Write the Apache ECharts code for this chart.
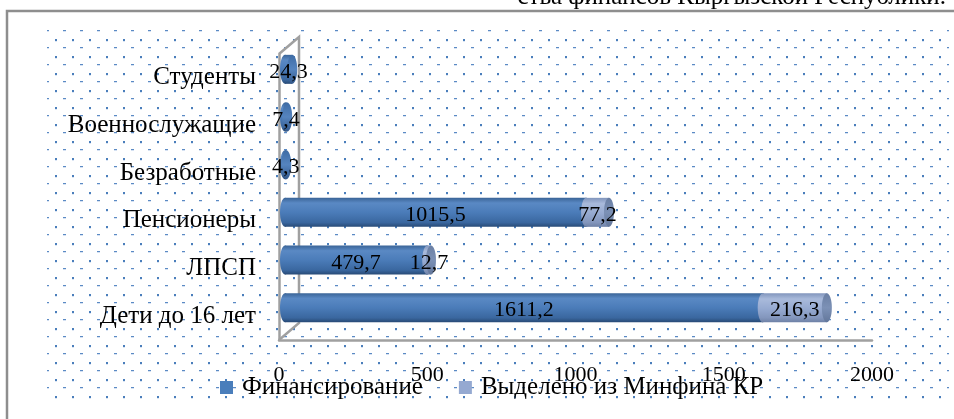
<!DOCTYPE html>
<html>
<head>
<meta charset="utf-8">
<script src="https://cdn.jsdelivr.net/npm/echarts@6/dist/echarts.min.js"></script>
<style>
html,body{margin:0;padding:0;background:#fff;}
#c{width:954px;height:419px;}
</style>
</head>
<body>
<div id="c"></div>
<script>
// ---- data ----
const categories = ['Дети до 16 лет', 'ЛПСП', 'Пенсионеры', 'Безработные', 'Военнослужащие', 'Студенты'];
const financing = [1611.2, 479.7, 1015.5, 4.3, 7.4, 24.3];
const minfin = [216.3, 12.7, 77.2, null, null, null];
const xTicks = [0, 500, 1000, 1500, 2000];
const seriesNames = ['Финансирование', 'Выделено из Минфина КР'];
const topText = 'ства финансов Кыргызской Республики.';

// ---- layout / style ----
const FONT = 'Liberation Serif';
const TXT = 25, NUM = 22;
const G = {left: 279, top: 54, width: 593, height: 286};
const DEPTH = {x: 20, y: -17};
const BAR = {dx: 6, dy: -8.5, h: 29, rx: 5};

function grad(stops) {
  return new echarts.graphic.LinearGradient(0, 0, 0, 1, stops.map((c) => ({offset: c[0], color: c[1]})));
}
const styles = [
  {
    body: [[0, '#3A6497'], [0.18, '#5A89C4'], [0.5, '#4B7CB9'], [0.85, '#3A679F'], [1, '#284A76']],
    cap: [[0, '#3F6CA5'], [0.5, '#5584BF'], [1, '#33598C']],
    legend: '#4A7EBB'
  },
  {
    body: [[0, '#8195BC'], [0.2, '#A9BADB'], [0.55, '#95A9D0'], [0.85, '#8396BC'], [1, '#6E81A6']],
    cap: [[0, '#6A7FA4'], [0.5, '#7C91B6'], [1, '#63779B']],
    legend: '#95A9D1'
  }
];

function fmt(v) { return String(v).replace('.', ','); }

function buildData(vals, bases) {
  return vals.map((v, i) => (v == null ? [null, i, 0] : [v, i, bases ? (bases[i] || 0) : 0]));
}

function renderFor(si) {
  return function (params, api) {
    const val = api.value(0);
    if (val == null || isNaN(val)) return;
    const cat = api.value(1);
    const start = api.value(2);
    const p0 = api.coord([start, cat]);
    const p1 = api.coord([start + val, cat]);
    const x0 = p0[0] + BAR.dx, x1 = p1[0] + BAR.dx, cy = p0[1] + BAR.dy;
    const h = BAR.h, rx = BAR.rx;
    const st = styles[si];
    return {
      type: 'group',
      children: [
        {type: 'ellipse', shape: {cx: x0, cy: cy, rx: rx, ry: h / 2}, style: {fill: grad(st.body)}},
        {type: 'rect', shape: {x: x0, y: cy - h / 2, width: Math.max(x1 - x0, 0.1), height: h}, style: {fill: grad(st.body)}},
        {type: 'ellipse', shape: {cx: x1, cy: cy, rx: rx, ry: h / 2}, style: {fill: grad(st.cap)}},
        {type: 'text', z2: 100, style: {text: fmt(val), x: (x0 + x1) / 2, y: cy + 3, align: 'center', verticalAlign: 'middle', fontSize: NUM, fontFamily: FONT, fill: '#000'}}
      ]
    };
  };
}

// dotted background pattern
const tile = document.createElement('canvas');
tile.width = 17; tile.height = 17;
(function () {
  const c = tile.getContext('2d');
  c.fillStyle = '#DCE6F4';
  c.fillRect(4, 7, 2, 1);
  c.fillStyle = '#4A7EBB';
  c.fillRect(4, 5, 2, 2);
  c.fillStyle = '#D5E1F2';
  c.fillRect(12, 14, 3, 1);
  c.fillStyle = '#5B8AC4';
  c.fillRect(12, 13, 3, 1);
})();

const chart = echarts.init(document.getElementById('c'));
const option = {
  backgroundColor: '#fff',
  animation: false,
  textStyle: {fontFamily: FONT},
  grid: {left: G.left, top: G.top, width: G.width, height: G.height, containLabel: false},
  xAxis: {
    type: 'value', min: xTicks[0], max: xTicks[xTicks.length - 1], interval: xTicks[1] - xTicks[0],
    axisLine: {show: true, lineStyle: {color: '#A0A0A0', width: 2.5}},
    axisTick: {show: false},
    splitLine: {show: false},
    axisLabel: {color: '#000', fontSize: NUM, fontFamily: FONT, margin: 24, formatter: (v) => String(v)}
  },
  yAxis: {
    type: 'category', data: categories,
    axisLine: {show: true, lineStyle: {color: '#A0A0A0', width: 2.5}},
    axisTick: {show: false},
    axisLabel: {color: '#000', fontSize: TXT, fontFamily: FONT, margin: 23, padding: [4, 0, 0, 0]}
  },
  legend: {
    left: 220, top: 375, padding: 0, itemWidth: 13, itemHeight: 13, itemGap: 36,
    data: seriesNames.map((n, i) => ({name: n, icon: 'rect', itemStyle: {color: styles[i].legend}})),
    textStyle: {color: '#000', fontSize: TXT, fontFamily: FONT, padding: [0, 0, 0, 4]}
  },
  graphic: [
    {type: 'rect', z: -10, silent: true, shape: {x: 47, y: 29, width: 902, height: 370}, style: {fill: {image: tile, repeat: 'repeat'}}},
    {type: 'polyline', z: -5, silent: true, shape: {points: [
      [G.left, G.top], [G.left + DEPTH.x, G.top + DEPTH.y], [G.left + DEPTH.x, G.top + G.height + DEPTH.y], [G.left, G.top + G.height]
    ]}, style: {stroke: '#A0A0A0', lineWidth: 2.5, fill: 'rgba(255,255,255,0)'}},
    {type: 'polyline', z: -5, silent: true, shape: {points: [[7, 419], [7, 11], [954, 11]]}, style: {stroke: '#8E8E8E', lineWidth: 2.5, fill: null}},
    {type: 'text', z: 5, silent: true, style: {text: topText, x: 946, y: -3, align: 'right', verticalAlign: 'middle', fontSize: TXT, fontFamily: FONT, fill: '#000'}}
  ],
  series: [
    {
      name: seriesNames[0], type: 'custom', itemStyle: {color: styles[0].legend},
      encode: {x: [0, 2], y: 1}, renderItem: renderFor(0), data: buildData(financing, null), z: 3
    },
    {
      name: seriesNames[1], type: 'custom', itemStyle: {color: styles[1].legend},
      encode: {x: [0, 2], y: 1}, renderItem: renderFor(1), data: buildData(minfin, financing), z: 4
    }
  ]
};
chart.setOption(option);
</script>
</body>
</html>
